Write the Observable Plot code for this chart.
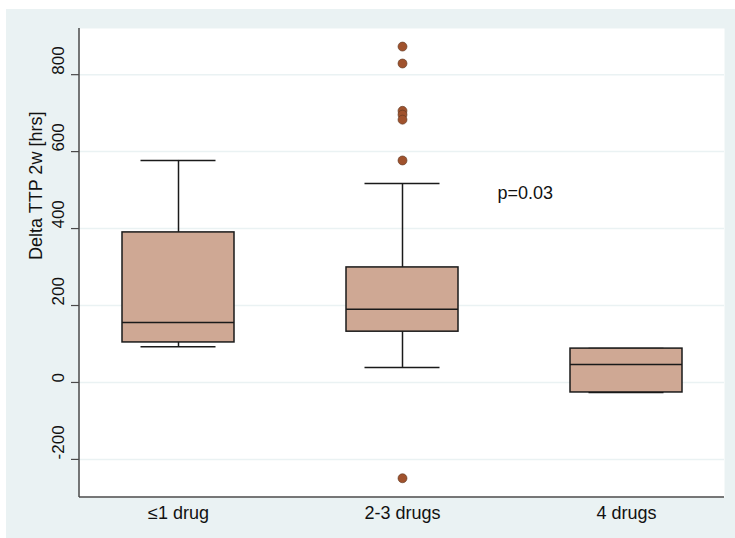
<!DOCTYPE html>
<html>
<head>
<meta charset="utf-8">
<script src="https://cdn.jsdelivr.net/npm/d3@7"></script>
<script src="https://cdn.jsdelivr.net/npm/@observablehq/plot@0.6"></script>
<style>
  html, body { margin: 0; padding: 0; background: #ffffff; }
  #chart { position: absolute; left: 6px; top: 9px; }
  #chart svg { display: block; background: #eaf2f3; }
</style>
</head>
<body>
<div id="chart"></div>
<script>
// Box-plot summary per treatment group (hours)
const groups = ["≤1 drug", "2-3 drugs", "4 drugs"];
const lowerWhisker = [93, 39, -26];
const q1 = [104, 132, -26];
const median = [156, 190, 47];
const q3 = [390, 299, 88];
const upperWhisker = [577, 517, 88];

// Outside values
const outlierGroups = ["2-3 drugs", "2-3 drugs", "2-3 drugs", "2-3 drugs", "2-3 drugs", "2-3 drugs", "2-3 drugs"];
const outlierValues = [873, 829, 706, 696, 683, 577, -249];

const yTicks = [-200, 0, 200, 400, 600, 800];
const yTitle = "Delta TTP 2w [hrs]";
const pLabel = "p=0.03";
const pValueY = 491;

const boxes = groups.map((g, i) => ({
  group: g, lo: lowerWhisker[i], q1: q1[i], med: median[i], q3: q3[i], hi: upperWhisker[i]
}));
const outliers = outlierValues.map((v, i) => ({group: outlierGroups[i], value: v}));

const font = "'Liberation Sans', Arial, Helvetica, sans-serif";
const axisColor = "#4a4a4a";

// left and bottom axis lines along the plot frame
const axisLines = (index, scales, values, dim) => {
  const g = d3.create("svg:g").attr("stroke", axisColor).attr("stroke-width", 1.5);
  const x0 = dim.marginLeft, y1 = dim.height - dim.marginBottom;
  g.append("line").attr("x1", x0).attr("x2", x0).attr("y1", dim.marginTop).attr("y2", y1);
  g.append("line").attr("x1", x0).attr("x2", dim.width - dim.marginRight).attr("y1", y1).attr("y2", y1);
  return g.node();
};

const chart = Plot.plot({
  width: 729,
  height: 529,
  marginLeft: 73,
  marginRight: 11,
  marginTop: 19,
  marginBottom: 41,
  style: {fontFamily: font, background: "#eaf2f3"},
  x: {domain: groups, paddingInner: 0.5, paddingOuter: 0.185, axis: null},
  y: {domain: [-299, 920], axis: null},
  marks: [
    Plot.frame({fill: "#ffffff", stroke: null}),
    Plot.gridY(yTicks, {stroke: "#eaf2f3", strokeOpacity: 1, strokeWidth: 1.5}),
    // whiskers
    Plot.ruleX(boxes, {x: "group", y1: "lo", y2: "q1", stroke: "#1a1a1a", strokeWidth: 1.5}),
    Plot.ruleX(boxes, {x: "group", y1: "q3", y2: "hi", stroke: "#1a1a1a", strokeWidth: 1.5}),
    Plot.tickY(boxes, {x: "group", y: "lo", stroke: "#1a1a1a", strokeWidth: 1.5, insetLeft: 18.5, insetRight: 18.5}),
    Plot.tickY(boxes, {x: "group", y: "hi", stroke: "#1a1a1a", strokeWidth: 1.5, insetLeft: 18.5, insetRight: 18.5}),
    // boxes
    Plot.barY(boxes, {x: "group", y1: "q1", y2: "q3", fill: "#cfa894", stroke: "#1a1a1a", strokeWidth: 1.5}),
    Plot.tickY(boxes, {x: "group", y: "med", stroke: "#1a1a1a", strokeWidth: 1.5}),
    // outside values
    Plot.dot(outliers, {x: "group", y: "value", r: 4.5, fill: "#a0522d", stroke: "#5a3520", strokeWidth: 0.6}),
    // annotation
    Plot.text([pLabel], {x: () => "2-3 drugs", y: () => pValueY, text: d => d, dx: 95, textAnchor: "start", fontSize: 18, fill: "#111"}),
    // y axis ticks, rotated tick labels and title
    Plot.axisY(yTicks, {tickSize: 8, stroke: axisColor, strokeWidth: 1.2, tickFormat: () => "", label: null}),
    Plot.text(yTicks, {y: d => d, text: d => String(d), frameAnchor: "left", dx: -20.5, rotate: -90, fontSize: 17, fill: "#111"}),
    Plot.text([yTitle], {frameAnchor: "left", dx: -43, dy: -3, rotate: -90, text: d => d, fontSize: 18, fill: "#111"}),
    // category labels
    Plot.text(groups, {x: d => d, text: d => d, frameAnchor: "bottom", dy: 21, fontSize: 18, fill: "#111"}),
    axisLines
  ]
});

document.getElementById("chart").appendChild(chart);
</script>
</body>
</html>
